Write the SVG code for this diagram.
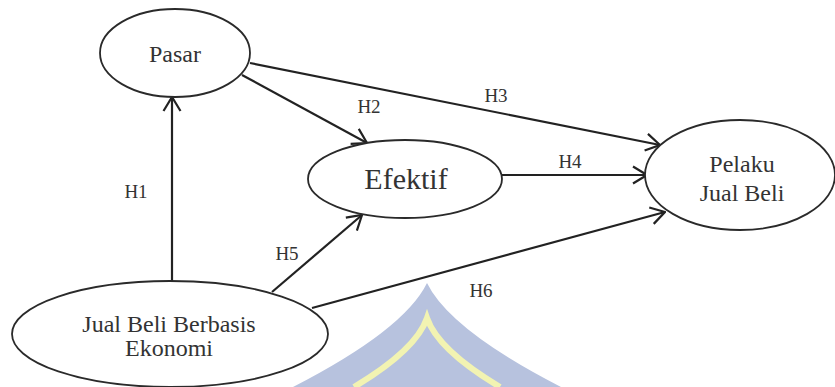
<svg xmlns="http://www.w3.org/2000/svg" width="835" height="387" viewBox="0 0 835 387">
<style>
.node ellipse{fill:#fff;stroke:#2a2a2a;stroke-width:1.8}
.lbl{fill:#333;text-anchor:middle}
.n{font-size:24px}
.h{font-size:19px}
.conn line{stroke:#222;stroke-width:2.2;fill:none}
</style>
<defs>
<marker id="arr" markerUnits="userSpaceOnUse" viewBox="0 0 16 20" refX="15" refY="10" markerWidth="16" markerHeight="20" orient="auto">
<path d="M1,1.5 L15,10 L1,18.5" fill="none" stroke="#222" stroke-width="2.2"/>
</marker>
</defs>
<rect width="835" height="387" fill="#fff"/>
<g id="watermark">
<path d="M427,283 Q450,330 561,387 L293,387 Q404,330 427,283 Z" fill="#b7c2de"/>
<path d="M354,387 Q416,350 427,318 Q438,350 500,387" fill="none" stroke="#f2f3b2" stroke-width="6"/>
</g>
<g id="connectors" class="conn">
<line x1="172" y1="281" x2="172" y2="97" marker-end="url(#arr)"/>
<line x1="242" y1="75" x2="367" y2="143" marker-end="url(#arr)"/>
<line x1="250" y1="63" x2="660" y2="145" marker-end="url(#arr)"/>
<line x1="502" y1="175" x2="647" y2="175" marker-end="url(#arr)"/>
<line x1="272" y1="292" x2="362" y2="215" marker-end="url(#arr)"/>
<line x1="312" y1="308" x2="665" y2="212" marker-end="url(#arr)"/>
</g>
<g font-family="Liberation Serif, serif">
<g id="pasar" class="node">
<ellipse cx="175" cy="53" rx="75" ry="44"/>
<text class="lbl n" x="175" y="62">Pasar</text>
</g>
<g id="efektif" class="node">
<ellipse cx="405" cy="179" rx="97" ry="39"/>
<text class="lbl" x="406" y="189" font-size="30">Efektif</text>
</g>
<g id="pelaku" class="node">
<ellipse cx="740" cy="175" rx="95" ry="55"/>
<text class="lbl n" x="742" y="172">Pelaku</text>
<text class="lbl n" x="742" y="201">Jual Beli</text>
</g>
<g id="jualbeli" class="node">
<ellipse cx="170" cy="334" rx="158" ry="53"/>
<text class="lbl n" x="169" y="332">Jual Beli Berbasis</text>
<text class="lbl n" x="169" y="356">Ekonomi</text>
</g>
<g id="labels">
<text class="lbl h" x="136" y="198">H1</text>
<text class="lbl h" x="369" y="113">H2</text>
<text class="lbl h" x="496" y="102">H3</text>
<text class="lbl h" x="570" y="168">H4</text>
<text class="lbl h" x="287" y="260">H5</text>
<text class="lbl h" x="481" y="297">H6</text>
</g>
</g>
</svg>
